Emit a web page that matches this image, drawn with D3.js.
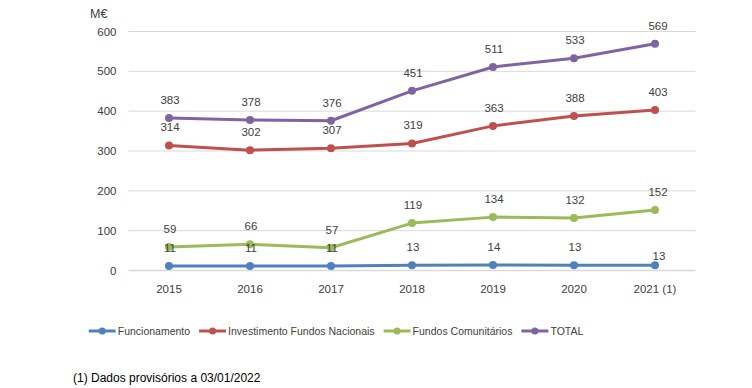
<!DOCTYPE html>
<html>
<head>
<meta charset="utf-8">
<script src="https://cdn.jsdelivr.net/npm/d3@7"></script>
<style>
  body { margin: 0; background: #fff; }
  svg text { font-family: "Liberation Sans", Arial, sans-serif; fill: #404040; }
</style>
</head>
<body>
<svg width="752" height="388"></svg>
<script>
var years = ['2015', '2016', '2017', '2018', '2019', '2020', '2021 (1)'];
var funcionamento = [11, 11, 11, 13, 14, 13, 13];
var investimento = [314, 302, 307, 319, 363, 388, 403];
var comunitarios = [59, 66, 57, 119, 134, 132, 152];
var total = [383, 378, 376, 451, 511, 533, 569];
var yTicks = [0, 100, 200, 300, 400, 500, 600];

var series = [
  { name: 'Funcionamento', values: funcionamento, color: '#4f81bd' },
  { name: 'Investimento Fundos Nacionais', values: investimento, color: '#c0504d' },
  { name: 'Fundos Comunitários', values: comunitarios, color: '#9bbb59' },
  { name: 'TOTAL', values: total, color: '#8064a2' }
];

var svg = d3.select('svg');
var margin = { left: 128.5, right: 56.5, top: 31.5, bottom: 117.5 };
var width = 752 - margin.left - margin.right,
  height = 388 - margin.top - margin.bottom;

var x = d3.scaleBand().domain(years).range([0, width]);
var y = d3.scaleLinear().domain([0, 600]).range([height, 0]);

var g = svg.append('g')
  .attr('transform', 'translate(' + margin.left + ',' + margin.top + ')');

// grid lines
g.selectAll('.grid')
  .data(yTicks)
  .enter()
  .append('line')
  .attr('x1', 0)
  .attr('x2', width)
  .attr('y1', function(d) { return y(d); })
  .attr('y2', function(d) { return y(d); })
  .attr('stroke', '#d9d9d9')
  .attr('stroke-width', function(d) { return d === 0 ? 1.5 : 1; });

// y labels
g.selectAll('.ylab')
  .data(yTicks)
  .enter()
  .append('text')
  .attr('x', -12)
  .attr('y', function(d) { return y(d); })
  .attr('dy', '0.35em')
  .attr('text-anchor', 'end')
  .style('font-size', '11.5px')
  .text(function(d) { return d; });

svg.append('text')
  .attr('x', 90)
  .attr('y', 18)
  .style('font-size', '12.5px')
  .text('M€');

// x labels
g.selectAll('.xlab')
  .data(years)
  .enter()
  .append('text')
  .attr('x', function(d) { return x(d) + x.bandwidth() / 2; })
  .attr('y', height + 22)
  .attr('text-anchor', 'middle')
  .style('font-size', '11.5px')
  .text(function(d) { return d; });

var line = d3.line()
  .x(function(d, i) { return x(years[i]) + x.bandwidth() / 2; })
  .y(function(d) { return y(d); });

series.forEach(function(s, si) {
  g.append('path')
    .datum(s.values)
    .attr('d', line)
    .attr('fill', 'none')
    .attr('stroke', s.color)
    .attr('stroke-width', 3)
    .attr('stroke-linejoin', 'round');

  g.selectAll('.pt' + si)
    .data(s.values)
    .enter()
    .append('circle')
    .attr('cx', function(d, i) { return x(years[i]) + x.bandwidth() / 2; })
    .attr('cy', function(d) { return y(d); })
    .attr('r', 4)
    .attr('fill', s.color);
});

// data labels drawn after all lines
series.forEach(function(s, si) {
  g.selectAll('.lab' + si)
    .data(s.values)
    .enter()
    .append('text')
    .attr('x', function(d, i) {
      var cx = x(years[i]) + x.bandwidth() / 2;
      if (si === 0 && i === years.length - 1) return cx + 4;
      return cx + (i === years.length - 1 ? 3 : 1);
    })
    .attr('y', function(d, i) {
      if (si === 0 && i === years.length - 1) return y(d) - 5;
      return y(d) - 14;
    })
    .attr('text-anchor', 'middle')
    .style('font-size', '11.5px')
    .text(function(d) { return d; });
});

// legend
var legend = svg.append('g').attr('transform', 'translate(0,331)');
var lx = 0;
legend.selectAll('.item')
  .data(series)
  .enter()
  .append('g')
  .each(function(s) {
    var it = d3.select(this);
    it.append('line')
      .attr('x1', 0).attr('x2', 27)
      .attr('stroke', s.color)
      .attr('stroke-width', 3);
    it.append('circle').attr('cx', 13.5).attr('r', 3.5).attr('fill', s.color);
    var t = it.append('text')
      .attr('x', 29)
      .attr('dy', '0.35em')
      .style('font-size', '10.5px')
      .text(s.name);
    var w = t.node().getComputedTextLength();
    it.attr('transform', 'translate(' + lx + ',0)');
    lx += 29 + w + 9;
  });
var lw = lx - 9;
legend.attr('transform', 'translate(' + (336 - lw / 2) + ',331)');

svg.append('text')
  .attr('x', 73)
  .attr('y', 382)
  .style('font-size', '12px')
  .style('fill', '#000')
  .text('(1) Dados provisórios a 03/01/2022');
</script>
</body>
</html>
